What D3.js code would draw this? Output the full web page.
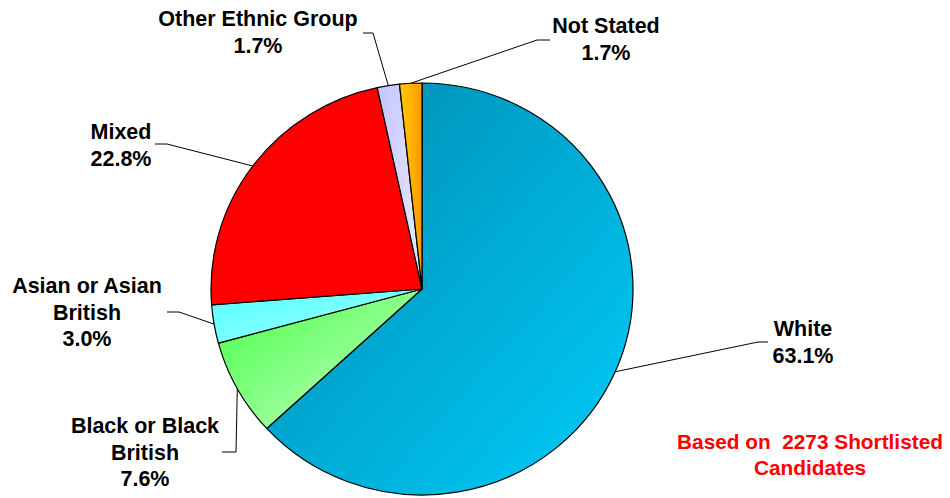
<!DOCTYPE html>
<html>
<head>
<meta charset="utf-8">
<script src="https://cdn.jsdelivr.net/npm/d3@7"></script>
<style>
  body { margin: 0; background: #fff; }
  text { font-family: "Liberation Sans", Arial, sans-serif; font-weight: bold; }
</style>
</head>
<body>
<div id="chart"></div>
<script>
// data
var categories = ["White", "Black or Black British", "Asian or Asian British", "Mixed", "Other Ethnic Group", "Not Stated"];
var percents = [63.1, 7.6, 3.0, 22.8, 1.7, 1.7];
var labelLines = [
  ["White", "63.1%"],
  ["Black or Black", "British", "7.6%"],
  ["Asian or Asian", "British", "3.0%"],
  ["Mixed", "22.8%"],
  ["Other Ethnic Group", "1.7%"],
  ["Not Stated", "1.7%"]
];
var noteLines = ["Based on  2273 Shortlisted", "Candidates"];

var w = 950, h = 498;
var cx = 422, cy = 289;
var rx = 211, ry = 206;

// label placement: text centre, first baseline, leader start and elbow
var labelPos = [
  {x: 803, y: 336, lx: 768, ly: 342, ex: 758},
  {x: 145, y: 433, lx: 222, ly: 452, ex: 236},
  {x: 87,  y: 293, lx: 167, ly: 312, ex: 179},
  {x: 121, y: 139, lx: 155, ly: 144, ex: 167},
  {x: 258, y: 26,  lx: 363, ly: 33,  ex: 373},
  {x: 606, y: 33,  lx: 550, ly: 40,  ex: 537}
];

// gradient fills
var fills = [
  {id: "gWhite", x2: 1, y2: 1, from: "#0088ad", to: "#00cdfa"},
  {id: "gBlack", x2: 1, y2: 1, from: "#44ff44", to: "#ccffcc"},
  {id: "gAsian", x2: 1, y2: 1, from: "#55ffff", to: "#a0ffff"},
  {id: "gMixed", x2: 1, y2: 1, from: "#ff0000", to: "#ff0000"},
  {id: "gOther", x2: 1, y2: 1, from: "#c4c4ff", to: "#ececff"},
  {id: "gNot",   x2: 1, y2: 0, from: "#ffcc00", to: "#ff9900"}
];

var svg = d3.select("#chart")
  .append("svg")
  .attr("width", w)
  .attr("height", h);

var defs = svg.append("defs");
fills.forEach(function(f) {
  var g = defs.append("linearGradient")
    .attr("id", f.id)
    .attr("x1", 0).attr("y1", 0)
    .attr("x2", f.x2).attr("y2", f.y2);
  g.append("stop").attr("offset", "0%").attr("stop-color", f.from);
  g.append("stop").attr("offset", "100%").attr("stop-color", f.to);
});

var pie = d3.pie().sort(null).value(function(d) { return d; });
var arcs = pie(percents);

var arc = d3.arc().innerRadius(0).outerRadius(rx);

var pieG = svg.append("g")
  .attr("transform", "translate(" + cx + "," + cy + ") scale(1," + (ry / rx) + ")");

pieG.selectAll("path")
  .data(arcs)
  .enter()
  .append("path")
  .attr("d", arc)
  .attr("fill", function(d, i) { return "url(#" + fills[i].id + ")"; })
  .attr("stroke", "#000")
  .attr("stroke-width", 1.2)
  .attr("stroke-linejoin", "round");

// leader lines
arcs.forEach(function(d, i) {
  var a = (d.startAngle + d.endAngle) / 2;
  var px = cx + rx * Math.sin(a);
  var py = cy - ry * Math.cos(a);
  var p = labelPos[i];
  svg.append("polyline")
    .attr("points", [[p.lx, p.ly], [p.ex, p.ly], [px, py]].map(function(q) { return q.join(","); }).join(" "))
    .attr("fill", "none")
    .attr("stroke", "#000")
    .attr("stroke-width", 1);
});

// labels
labelLines.forEach(function(lines, i) {
  var p = labelPos[i];
  var t = svg.append("text")
    .attr("text-anchor", "middle")
    .attr("font-size", "21.5px")
    .attr("fill", "#000");
  lines.forEach(function(s, j) {
    t.append("tspan")
      .attr("x", p.x)
      .attr("y", p.y + j * 26.5)
      .text(s);
  });
});

// note
var note = svg.append("text")
  .attr("text-anchor", "middle")
  .attr("font-size", "20.8px")
  .attr("fill", "#ff0000");
noteLines.forEach(function(s, j) {
  note.append("tspan")
    .attr("x", 810)
    .attr("y", 449 + j * 26)
    .style("white-space", "pre")
    .text(s);
});
</script>
</body>
</html>
